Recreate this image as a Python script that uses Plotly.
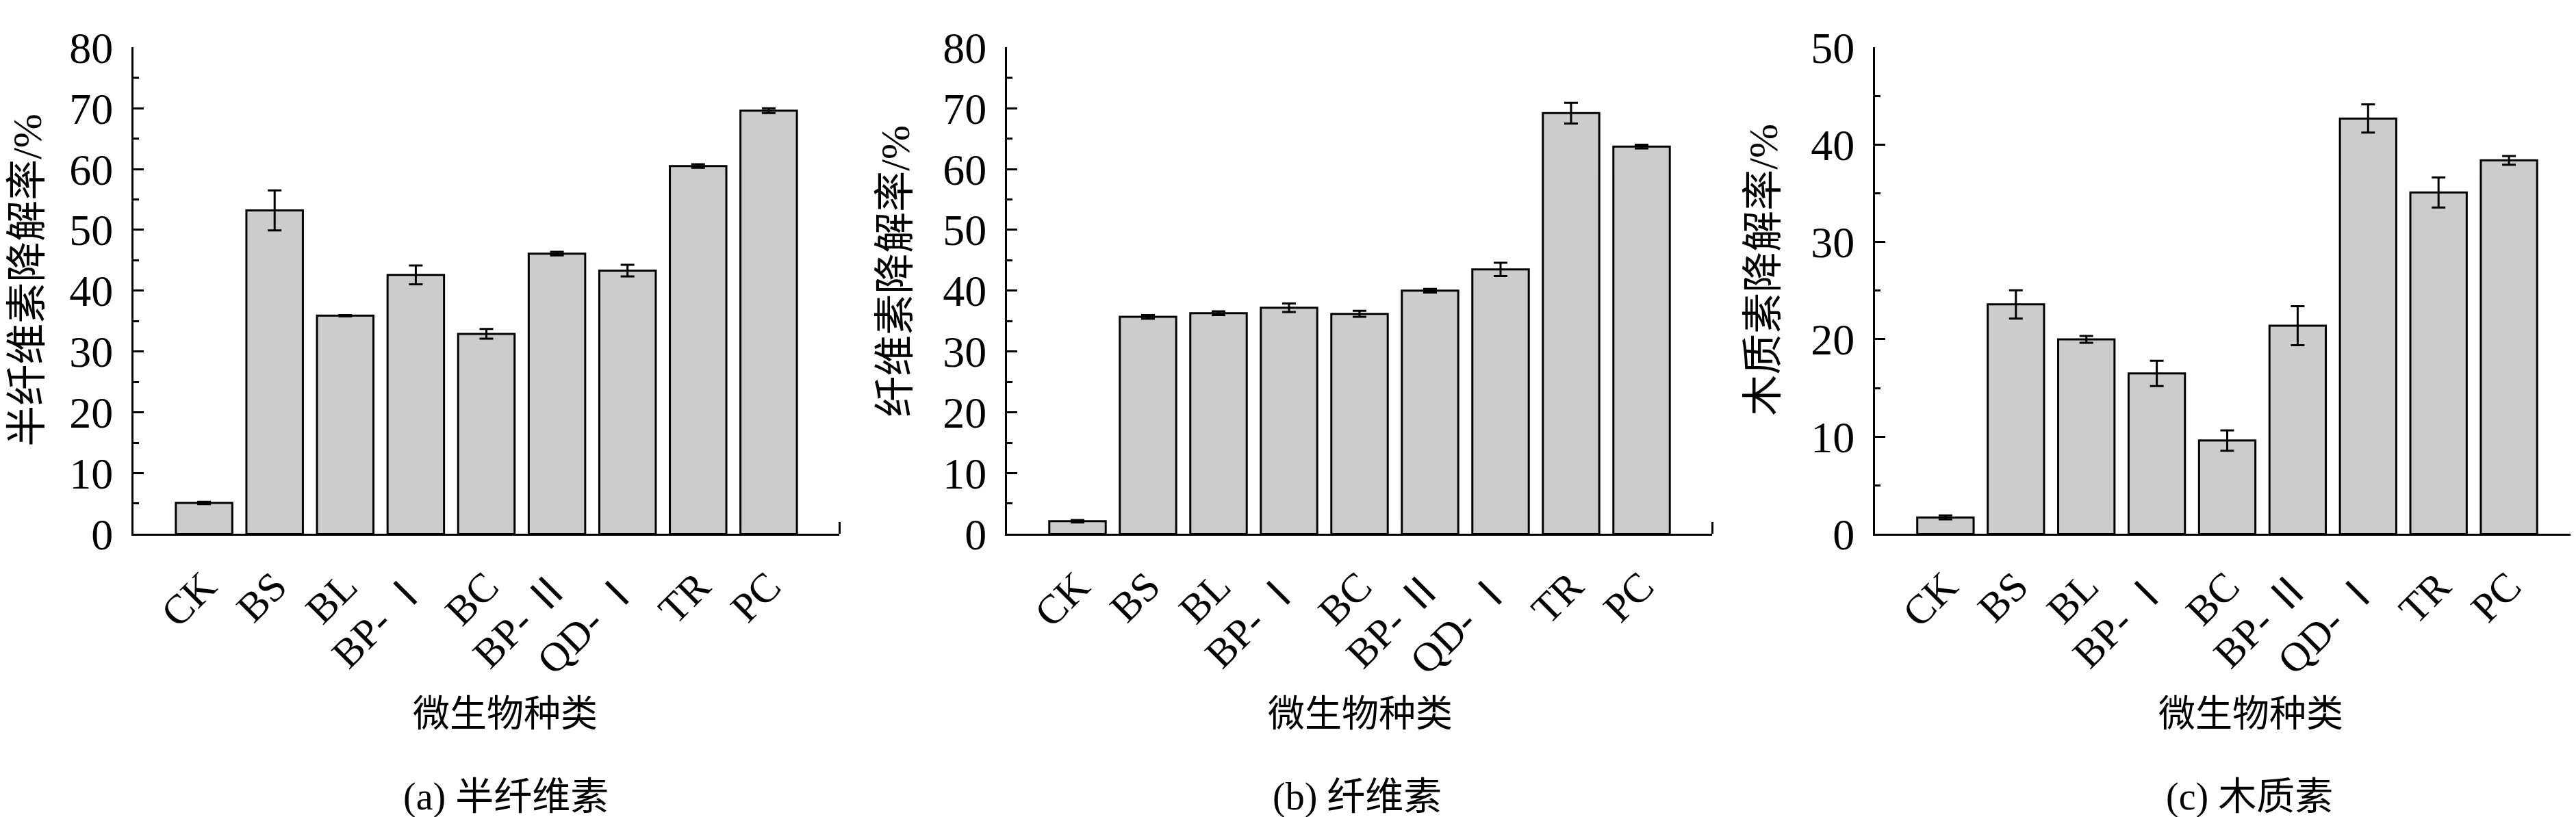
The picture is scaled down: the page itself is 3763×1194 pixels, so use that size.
import plotly.graph_objects as go

# ---------------- data ----------------
categories = ["CK", "BS", "BL", "BP- Ⅰ", "BC", "BP- Ⅱ", "QD- Ⅰ", "TR", "PC"]
x_positions = [1, 2, 3, 4, 5, 6, 7, 8, 9]

hemi_values = [5.1, 53.2, 35.9, 42.6, 32.9, 46.1, 43.3, 60.5, 69.6]
hemi_errors = [0.2, 3.3, 0.1, 1.55, 0.8, 0.3, 0.95, 0.3, 0.4]

cell_values = [2.1, 35.7, 36.3, 37.2, 36.2, 40.0, 43.5, 69.2, 63.7]
cell_errors = [0.2, 0.3, 0.3, 0.7, 0.5, 0.3, 1.1, 1.7, 0.3]

lig_values = [1.7, 23.6, 20.0, 16.5, 9.6, 21.4, 42.7, 35.1, 38.4]
lig_errors = [0.2, 1.45, 0.35, 1.3, 1.05, 2.0, 1.45, 1.55, 0.45]

y_titles = ["半纤维素降解率/%", "纤维素降解率/%", "木质素降解率/%"]
captions = ["(a) 半纤维素", "(b) 纤维素", "(c) 木质素"]
x_title = "微生物种类"
y_max = [80, 80, 50]

# ---------------- layout helpers ----------------
W, H = 3763, 1194
SERIF = "Liberation Serif, Times New Roman, Noto Sans CJK SC, serif"


def px_x(p):
    return p / W


def px_y(p):
    return 1 - p / H


panel_px = [(187, 1218), (1463, 2493), (2731, 3760)]
top_px, bottom_px = 28, 784
ytitle_pos = [(32, 390), (1300, 376), (2568, 374)]
xtitle_x = [730, 1979, 3280]
caption_x = [731, 1975, 3278]
xtitle_y, caption_y = 1064, 1192

series = [(hemi_values, hemi_errors), (cell_values, cell_errors), (lig_values, lig_errors)]

fig = go.Figure()
annotations = []

for i, (vals, errs) in enumerate(series):
    n = i + 1
    xa = "x" if n == 1 else f"x{n}"
    ya = "y" if n == 1 else f"y{n}"
    fig.add_trace(go.Bar(
        x=x_positions, y=vals, width=0.8,
        marker=dict(color="#cccccc", line=dict(color="black", width=3)),
        error_y=dict(type="data", array=errs, visible=True, color="black",
                     thickness=3, width=10),
        xaxis=xa, yaxis=ya, showlegend=False,
    ))
    x0, x1 = panel_px[i]
    xkey = "xaxis" if n == 1 else f"xaxis{n}"
    ykey = "yaxis" if n == 1 else f"yaxis{n}"
    fig.layout[xkey] = dict(
        domain=[px_x(x0), px_x(x1)], range=[0, 10], anchor=ya,
        tickmode="array", tickvals=x_positions, ticktext=categories,
        ticks="", tickangle=-45, showline=True, linecolor="black", linewidth=3,
        showgrid=False, zeroline=False,
        tickfont=dict(family=SERIF, size=60, color="black"),
        ticklabelstandoff=14, ticklabeloverflow="allow",
        minor=dict(tickmode="array", tickvals=[10], ticks="inside", ticklen=17,
                   tickwidth=3, tickcolor="black", showgrid=False),
    )
    fig.layout[ykey] = dict(
        domain=[px_y(bottom_px), px_y(top_px)], range=[0, y_max[i]], anchor=xa,
        tickmode="linear", tick0=0, dtick=10, ticks="inside", ticklen=15,
        tickwidth=3, tickcolor="black", showline=True, linecolor="black",
        linewidth=3, showgrid=False, zeroline=False,
        tickfont=dict(family=SERIF, size=64, color="black"),
        ticklabelstandoff=14, ticklabeloverflow="allow",
        minor=dict(dtick=5, ticks="inside", ticklen=8, tickwidth=3,
                   tickcolor="black", showgrid=False),
    )
    tx, ty = ytitle_pos[i]
    annotations.append(dict(
        text=y_titles[i], x=px_x(tx), y=px_y(ty), xref="paper", yref="paper",
        textangle=-90, showarrow=False, xanchor="center", yanchor="middle",
        font=dict(family=SERIF, size=60, color="black"),
    ))
    annotations.append(dict(
        text=x_title, x=px_x(xtitle_x[i]), y=px_y(xtitle_y), xref="paper", yref="paper",
        showarrow=False, xanchor="center", yanchor="middle",
        font=dict(family=SERIF, size=54, color="black"),
    ))
    annotations.append(dict(
        text=captions[i], x=px_x(caption_x[i]), y=px_y(caption_y), xref="paper", yref="paper",
        showarrow=False, xanchor="center", yanchor="middle",
        font=dict(family=SERIF, size=56, color="black"),
    ))

fig.update_layout(
    width=W, height=H, margin=dict(l=0, r=0, t=0, b=0),
    paper_bgcolor="white", plot_bgcolor="white",
    annotations=annotations, bargap=0.2,
)

fig.write_html("out.html")
